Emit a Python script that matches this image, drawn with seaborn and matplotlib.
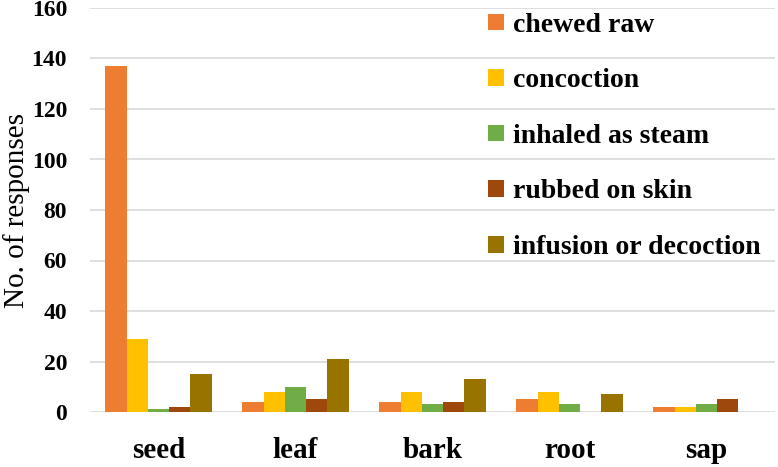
import pandas as pd
import matplotlib
matplotlib.use('Agg')
import matplotlib.pyplot as plt
import seaborn as sns

sns.set_style('whitegrid')
plt.rcParams['font.family'] = ['Liberation Serif', 'DejaVu Serif']
plt.rcParams['text.color'] = 'black'
plt.rcParams['axes.labelcolor'] = 'black'
plt.rcParams['xtick.color'] = 'black'
plt.rcParams['ytick.color'] = 'black'

PARTS = ['seed', 'leaf', 'bark', 'root', 'sap']
METHODS = ['chewed raw', 'concoction', 'inhaled as steam', 'rubbed on skin', 'infusion or decoction']
COLORS = ['#ED7D31', '#FFC000', '#70AD47', '#9E480E', '#997300']

chewed_raw = [137, 4, 4, 5, 2]
concoction = [29, 8, 8, 8, 2]
inhaled_as_steam = [1, 10, 3, 3, 3]
rubbed_on_skin = [2, 5, 4, 0, 5]
infusion_or_decoction = [15, 21, 13, 7, 0]

plt_df = pd.DataFrame({
    'part': PARTS,
    'chewed raw': chewed_raw,
    'concoction': concoction,
    'inhaled as steam': inhaled_as_steam,
    'rubbed on skin': rubbed_on_skin,
    'infusion or decoction': infusion_or_decoction,
}).melt(id_vars='part', var_name='method', value_name='responses')

fig = plt.figure(figsize=(7.78, 4.67), dpi=100)
ax = fig.add_axes([90 / 778, 1 - 412 / 467, 685 / 778, 404 / 467])
sns.barplot(data=plt_df, x='part', y='responses', hue='method', order=PARTS, hue_order=METHODS,
            palette=COLORS, width=0.775, gap=0, linewidth=0, saturation=1, ax=ax)

ax.set_ylim(0, 160)
ax.set_yticks(range(0, 161, 20))
ax.set_xlim(-0.5, 4.5)
ax.grid(axis='y', color='#D9D9D9', linewidth=1.2)
ax.grid(axis='x', visible=False)
sns.despine(ax=ax, left=True, bottom=True)
ax.tick_params(axis='y', length=0, pad=16.5, labelsize=17)
ax.tick_params(axis='x', length=0, pad=18, labelsize=21)
for lbl in ax.get_xticklabels() + ax.get_yticklabels():
    lbl.set_fontweight('bold')
ax.set_xlabel('')
ax.set_ylabel('No. of responses', fontsize=21)
ax.yaxis.set_label_coords(-60 / 685, 0.5)

leg = ax.legend(loc='upper left', bbox_to_anchor=(0.545, 1.05), frameon=False,
                prop={'weight': 'bold', 'size': 20}, labelspacing=1.1,
                handlelength=0.55, handleheight=0.55, handletextpad=0.35)

fig.savefig('out.png', dpi=100)
